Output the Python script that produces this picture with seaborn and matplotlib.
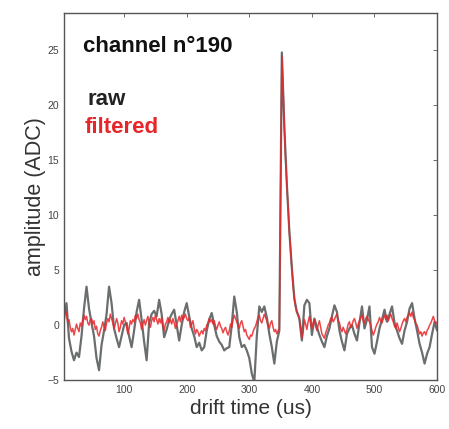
import numpy as np
import pandas as pd
import matplotlib
matplotlib.use("Agg")
import matplotlib.pyplot as plt
import seaborn as sns

# sampling clocks (us)
raw_time = list(range(4, 601, 4))
filt_time = list(range(2, 601, 2))

raw = [
    0.5, 2.0, -1.2, -2.4, -3.2, -2.5, -2.9, -1.0, 1.5, 3.5,
    1.5, 0.2, -1.0, -3.0, -4.1, -1.8, -0.5, 1.0, 3.5, 2.0,
    -0.3, -1.2, -2.0, -1.0, 0.0, 0.2, -1.0, -2.0, -0.5, 1.2,
    2.3, 0.5, -1.5, -3.2, 0.2, 1.0, 1.3, 0.8, 2.3, 1.0,
    -1.1, -0.4, 0.5, 1.0, 1.4, 0.0, -1.4, 0.0, 1.2, 2.0,
    0.8, -0.3, -1.0, -2.0, -1.6, -2.3, -2.0, -0.5, 0.5, 1.1,
    0.0, -1.0, -1.5, -1.8, -2.3, -2.1, -2.0, 0.0, 2.6, 1.2,
    -1.1, -2.0, -1.8, -2.3, -3.0, -4.4, -5.2, -1.0, 1.7, 1.2,
    1.7, 0.7, -0.8, -2.0, -3.5, -1.5, -0.5, 24.8, 18.0, 12.8,
    8.5, 5.2, 2.4, 1.2, 0.6, -1.4, 1.8, 2.3, 2.0, -0.9,
    0.6, -0.2, -0.9, -1.5, -2.0, -1.0, -0.3, 0.8, 1.8, 1.2,
    -0.5, -1.5, -2.3, -0.8, -0.3, 0.0, -0.8, -1.4, 0.2, 1.7,
    -0.3, 0.5, 1.7, -2.0, -2.6, -1.5, -0.3, 0.5, 1.4, 0.3,
    1.0, 1.7, 0.2, -0.5, -1.2, -1.7, -0.5, 0.3, 1.5, 2.0,
    0.6, -0.5, -1.7, -2.5, -3.5, -2.6, -2.0, -0.8, 0.3, -0.5,
]

filtered = [
    0.6, 0.8, 1.4, 1.0, 0.3, 0.5, -0.2, -0.6, -0.3, -0.9, -0.4, 0.1, -0.3, -0.6, 0.2, -0.1, 0.4, 0.9, 0.5, 0.8,
    0.2, 0.0, 0.5, 0.6, 0.1, 0.4, -0.4, -0.1, -0.8, -1.0, -0.5, -0.2, 0.3, -0.1, -0.5, 0.2, 0.6, 0.3, 1.0, 0.6,
    0.2, -0.3, 0.1, 0.6, 0.2, -0.6, -0.2, 0.4, 0.1, 0.7, 0.3, -0.2, -0.8, -0.3, 0.4, 0.1, 0.5, 0.3, 0.9, 0.6,
    1.0, 0.5, 0.2, -0.4, 0.1, 0.5, 0.0, 0.4, 0.8, 0.2, -0.2, 0.4, 0.7, 0.3, 0.9, 0.5, 0.1, 0.6, 0.2, 0.7,
    -0.1, -0.5, 0.1, 0.3, 0.7, 0.2, 0.5, 0.1, 0.6, 0.2, -0.3, 0.1, 0.4, 0.8, 0.3, 0.9, 0.5, 0.7, 1.0, 0.6,
    0.4, 0.7, -0.2, 0.1, 0.4, -0.3, -0.8, -0.4, -0.6, -1.0, -0.7, -0.5, -0.8, -0.3, -0.5, 0.0, 0.2, 0.6, 0.3, 0.5,
    0.1, 0.4, -0.1, -0.4, 0.0, 0.3, -0.1, -0.3, -0.7, -0.4, -0.2, -0.6, -0.9, -0.5, 0.1, -0.2, 0.5, 0.9, 0.6, 0.3,
    0.0, -0.3, 0.2, 0.4, -0.1, -0.6, -0.4, -0.9, -1.1, -1.3, -0.9, -1.0, -0.6, -0.3, -0.1, 0.3, 0.7, 0.9, 0.4, 0.2,
    0.6, 1.0, 0.7, 0.4, 0.0, -0.3, 0.2, 0.4, -0.2, -0.6, -0.4, -0.8, -0.5, -0.3, 12.0, 24.5, 21.5, 18.0, 15.0, 12.8,
    10.5, 8.5, 6.8, 5.2, 3.5, 2.4, 1.6, 1.2, 1.0, 0.6, -0.3, -1.2, -0.6, 0.5, 0.1, -0.4, 0.3, 0.8, 0.2, -0.3,
    0.2, 0.5, -0.1, -0.5, 0.0, 0.4, -0.2, -0.8, -1.0, -1.2, -0.7, -0.4, 0.0, 0.2, 0.6, 0.7, 0.3, 0.5, 0.8, 1.0,
    0.4, 0.2, -0.3, -0.6, -0.2, -0.5, -0.8, -0.4, 0.1, 0.3, -0.2, 0.0, 0.4, 0.6, 0.2, -0.3, 0.1, 0.4, 0.7, 0.9,
    0.4, 0.2, 0.6, 0.8, 0.5, 0.3, 0.0, -0.5, -0.9, -0.6, -0.2, 0.1, 0.3, 0.7, 0.4, 0.2, 0.6, 0.9, 0.5, 0.9,
    0.4, 0.7, 1.0, 0.6, 0.3, -0.1, -0.3, 0.2, -0.2, -0.6, -0.3, 0.1, 0.4, 0.6, 0.3, 0.7, 0.9, 1.1, 0.8, 1.2,
    0.7, 0.5, 0.1, 0.0, -0.4, -0.8, -0.6, -1.0, -0.7, -0.6, -0.9, -0.5, -0.3, 0.0, 0.2, 0.5, 0.8, 0.4, 0.1, 0.3,
]

x_ticks = [100, 200, 300, 400, 500, 600]
y_ticks = [-5, 0, 5, 10, 15, 20, 25]

sns.set_theme(style="white")
plt.rcParams['font.family'] = ['Liberation Sans', 'DejaVu Sans']

df_raw = pd.DataFrame({"time": raw_time, "amplitude": raw})
df_filt = pd.DataFrame({"time": filt_time, "amplitude": filtered})

fig = plt.figure(figsize=(4.49, 4.29), dpi=100)
ax = fig.add_axes([0.1425, 0.114, 0.831, 0.856])

sns.lineplot(data=df_raw, x="time", y="amplitude", ax=ax, color="#6b6e6e", linewidth=1.6)
sns.lineplot(data=df_filt, x="time", y="amplitude", ax=ax, color="#e8262a", linewidth=1.1, alpha=0.85)

ax.set_xlim(4, 600)
ax.set_ylim(-5, 28.4)
ax.set_xticks(x_ticks)
ax.set_yticks(y_ticks)
ax.set_yticklabels([("\u2212" + str(-v)) if v < 0 else str(v) for v in y_ticks])
ax.tick_params(direction="in", length=3, width=0.6, colors="#555555",
               labelsize=7.5, top=True, right=True, labelcolor="#444444")
for s in ax.spines.values():
    s.set_color("#555555")
    s.set_linewidth(1.0)

ax.set_xlabel("drift time (us)", fontsize=15, color="#333333", labelpad=3)
ax.set_ylabel("amplitude (ADC)", fontsize=15.5, color="#333333", labelpad=1)

ax.text(0.051, 0.908, "channel n°190", transform=ax.transAxes, fontsize=16,
        fontweight="bold", color="#111111", va="center", ha="left")
ax.text(0.062, 0.763, "raw", transform=ax.transAxes, fontsize=16,
        fontweight="bold", color="#222222", va="center", ha="left")
ax.text(0.055, 0.689, "filtered", transform=ax.transAxes, fontsize=16,
        fontweight="bold", color="#e8262a", va="center", ha="left")

fig.savefig("out.png", dpi=100)
